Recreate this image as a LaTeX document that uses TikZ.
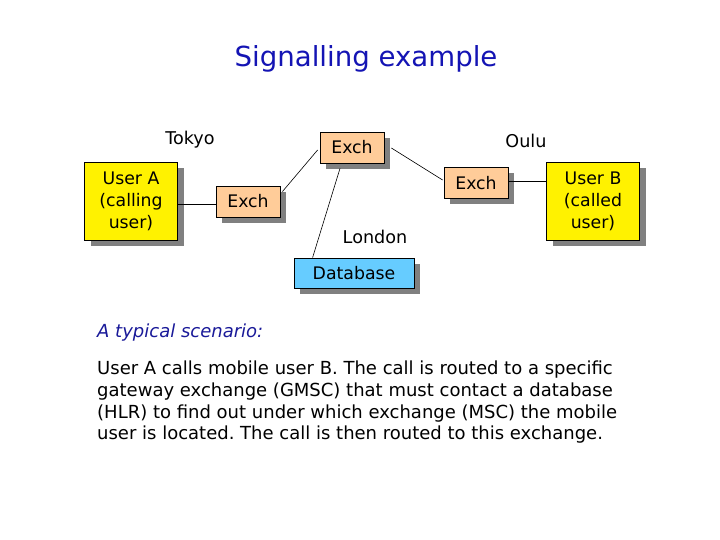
\documentclass[tikz,border=0pt]{standalone}
\usepackage{fontspec}
\setmainfont{DejaVu Sans}
\usetikzlibrary{shadows}
\definecolor{titleblue}{HTML}{1414B4}
\definecolor{subblue}{HTML}{1A1A99}
\definecolor{exchfill}{HTML}{FFCC99}
\definecolor{dbfill}{HTML}{66CCFF}
\definecolor{shadowgray}{HTML}{808080}
\tikzset{
  boxbase/.style={draw=black, line width=0.8pt, rectangle, inner sep=0pt, align=center,
    drop shadow={shadow xshift=6pt, shadow yshift=-6pt, fill=shadowgray, opacity=1}},
  userbox/.style={boxbase, fill=yellow, minimum width=93pt, minimum height=78pt,
    font=\fontsize{17.3}{22}\selectfont},
  exchbox/.style={boxbase, fill=exchfill, minimum width=64pt, minimum height=31pt,
    font=\fontsize{17.3}{20}\selectfont},
  dbbox/.style={boxbase, fill=dbfill, minimum width=120pt, minimum height=30pt,
    font=\fontsize{17.3}{20}\selectfont},
  place/.style={font=\fontsize{17.6}{20}\selectfont},
  link/.style={draw=black, line width=0.6pt}
}
\frenchspacing
\begin{document}
\begin{tikzpicture}[x=1pt,y=-1pt]
\useasboundingbox[fill=white] (0,0) rectangle (720,540);
\node[font=\fontsize{27.6}{32}\selectfont, text=titleblue, anchor=base, inner sep=0pt] (title) at (366,67) {Signalling example};
\node[userbox] (usera) at (131,201) {User A\\(calling\\user)};
\node[exchbox] (exchl) at (248,201.5) {Exch};
\node[exchbox] (excht) at (352,147.5) {Exch};
\node[exchbox] (exchr) at (476,183) {Exch};
\node[userbox] (userb) at (593,201) {User B\\(called\\user)};
\node[dbbox] (db) at (354,273) {Database};
\node[place] (tokyo) at (190,140) {Tokyo};
\node[place] (oulu) at (526,141) {Oulu};
\node[place] (london) at (375,237) {London};
\draw[link] (usera.east |- 0,204) -- (exchl.west |- 0,204);
\draw[link] ([shift={(2,6)}]exchl.north east) -- ([shift={(-2,2.5)}]excht.west);
\draw[link] ([shift={(-12,5)}]excht.south) -- ([shift={(19,0)}]db.north west);
\draw[link] ([shift={(7,0.5)}]excht.east) -- ([shift={(-1,-3)}]exchr.west);
\draw[link] ([shift={(0,-2)}]exchr.east) -- ([shift={(0,-20)}]userb.west);
\node[anchor=base west, inner sep=0pt, font=\fontsize{18}{21.7}\selectfont\itshape, text=subblue] (scen) at (97,337) {A typical scenario:};
\node[anchor=north west, align=left, inner sep=0pt, font=\fontsize{18}{21.7}\selectfont] (para) at (97,361)
{User A calls mobile user B. The call is routed to a specific\\
gateway exchange (GMSC) that must contact a database\\
(HLR) to find out under which exchange (MSC) the mobile\\
user is located. The call is then routed to this exchange.};
\end{tikzpicture}
\end{document}
